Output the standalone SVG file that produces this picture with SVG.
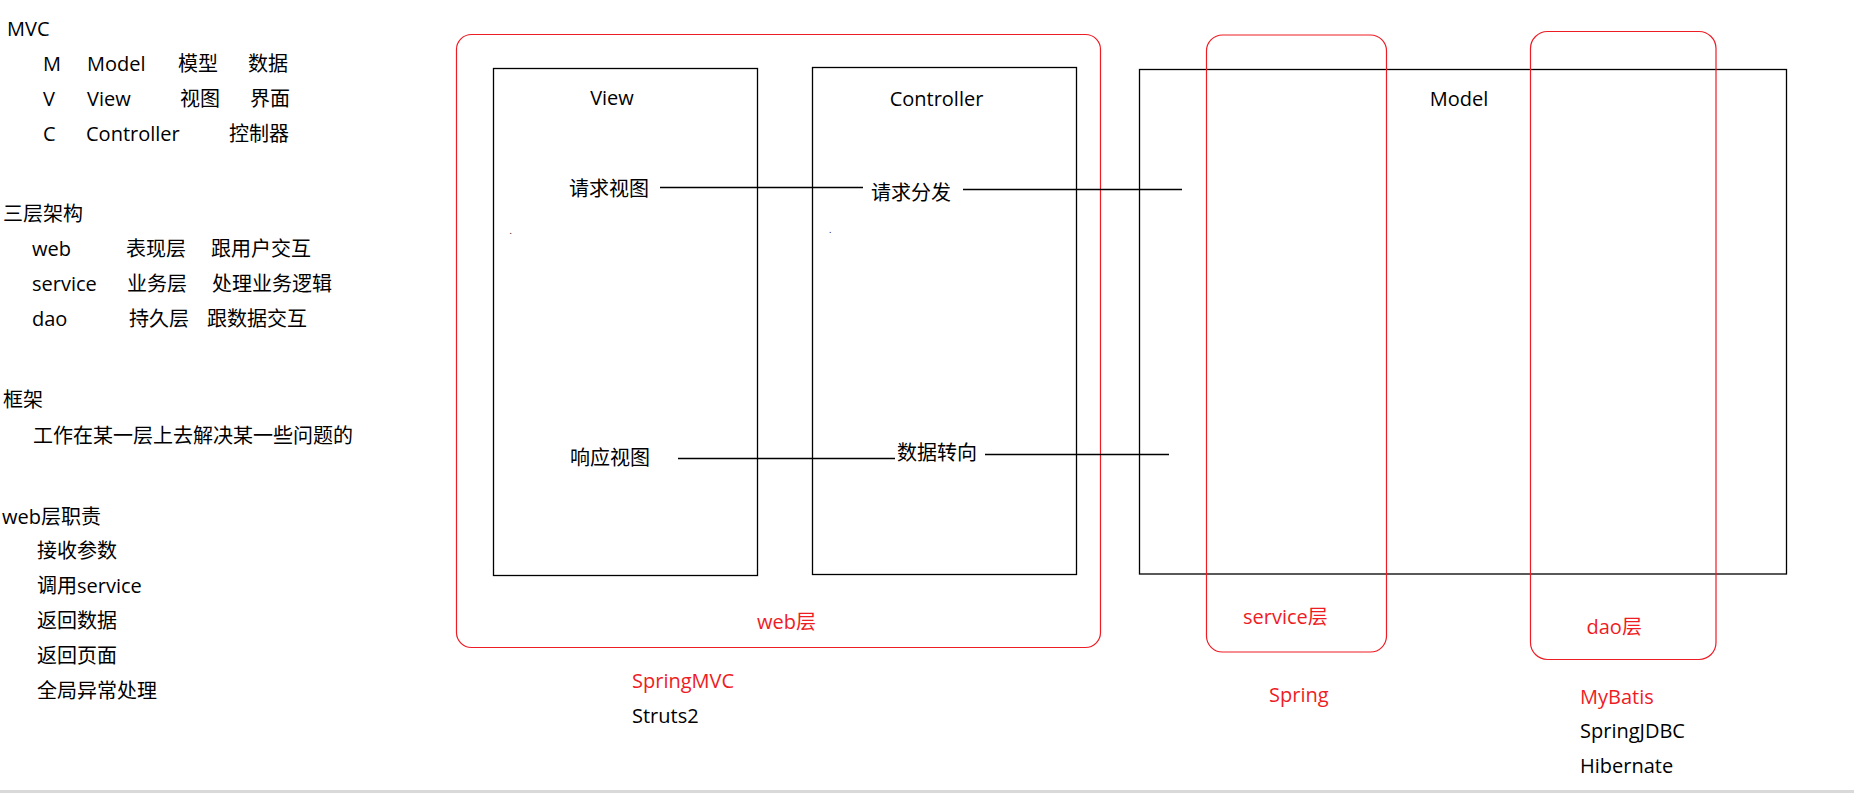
<svg xmlns="http://www.w3.org/2000/svg" width="1854" height="793" viewBox="0 0 1854 793">
<style>
.t{font-family:"Open Sans","Noto Sans CJK SC",sans-serif;font-size:20px;fill:#000}
.r{fill:#ee1c25}
.m{text-anchor:middle}
.box{fill:none;stroke:#000;stroke-width:1.3}
.red{fill:none;stroke:#ee1c25;stroke-width:1.2}
.ln{stroke:#000;stroke-width:1.3;fill:none}
.dot{font-family:"Open Sans",sans-serif;font-size:9px;fill:#000}
</style>
<rect x="0" y="0" width="1854" height="793" fill="#fff"/>
<rect x="0" y="790" width="1854" height="3" fill="#d9d9d9"/>

<g id="notes" class="t">
  <text x="7" y="36">MVC</text>
  <text x="43" y="71">M</text><text x="87" y="71">Model</text><text x="178" y="70.5">模型</text><text x="248" y="70.5">数据</text>
  <text x="43" y="106">V</text><text x="87" y="106">View</text><text x="180" y="105.5">视图</text><text x="250" y="105.5">界面</text>
  <text x="43" y="141">C</text><text x="86" y="141">Controller</text><text x="229" y="140.5">控制器</text>
  <text x="3" y="220.5">三层架构</text>
  <text x="32" y="256">web</text><text x="126" y="255.5">表现层</text><text x="211" y="255.5">跟用户交互</text>
  <text x="32" y="291">service</text><text x="127" y="290.5">业务层</text><text x="212" y="290.5">处理业务逻辑</text>
  <text x="32" y="326">dao</text><text x="129" y="325.5">持久层</text><text x="207" y="325.5">跟数据交互</text>
  <text x="3" y="407">框架</text>
  <text x="33" y="443">工作在某一层上去解决某一些问题的</text>
  <text x="2" y="524">web层职责</text>
  <text x="37" y="558">接收参数</text>
  <text x="37" y="593">调用service</text>
  <text x="37" y="628">返回数据</text>
  <text x="37" y="663">返回页面</text>
  <text x="37" y="698">全局异常处理</text>
</g>

<g id="web-layer">
  <rect class="red" x="456.5" y="34.5" width="644" height="613" rx="15"/>
  <text class="t r" x="757" y="629">web层</text>
  <text class="t r" x="632" y="688">SpringMVC</text>
  <text class="t" x="632" y="723">Struts2</text>
</g>

<g id="view">
  <rect class="box" x="493.5" y="68.5" width="264" height="507"/>
  <text class="t m" x="612" y="105">View</text>
  <text class="t" x="569" y="195.5">请求视图</text>
  <text class="t" x="570" y="464.5">响应视图</text>
  <text class="dot" x="509.5" y="233.5">.</text>
</g>

<g id="controller">
  <rect class="box" x="812.5" y="67.5" width="264" height="507"/>
  <text class="t m" x="936.5" y="106">Controller</text>
  <text class="t" x="871" y="200">请求分发</text>
  <text class="t" x="897" y="459.5">数据转向</text>
  <text class="dot" x="829" y="232.5">.</text>
</g>

<g id="model">
  <rect class="box" x="1139.5" y="69.5" width="647" height="504.5"/>
  <text class="t m" x="1459" y="106">Model</text>
</g>

<g id="service-layer">
  <rect class="red" x="1206.5" y="35" width="180" height="617" rx="16"/>
  <text class="t r" x="1243" y="624">service层</text>
  <text class="t r" x="1269" y="702">Spring</text>
</g>

<g id="dao-layer">
  <rect class="red" x="1530.5" y="31.5" width="185.5" height="628" rx="17"/>
  <text class="t r" x="1586.5" y="634">dao层</text>
  <text class="t r" x="1580" y="704">MyBatis</text>
  <text class="t" x="1580" y="738">SpringJDBC</text>
  <text class="t" x="1580" y="773">Hibernate</text>
</g>

<g id="connectors">
  <line class="ln" x1="660" y1="187.5" x2="863" y2="187.5"/>
  <line class="ln" x1="963" y1="189.5" x2="1182" y2="189.5"/>
  <line class="ln" x1="678" y1="458.5" x2="895" y2="458.5"/>
  <line class="ln" x1="985" y1="454.5" x2="1169" y2="454.5"/>
</g>
</svg>
